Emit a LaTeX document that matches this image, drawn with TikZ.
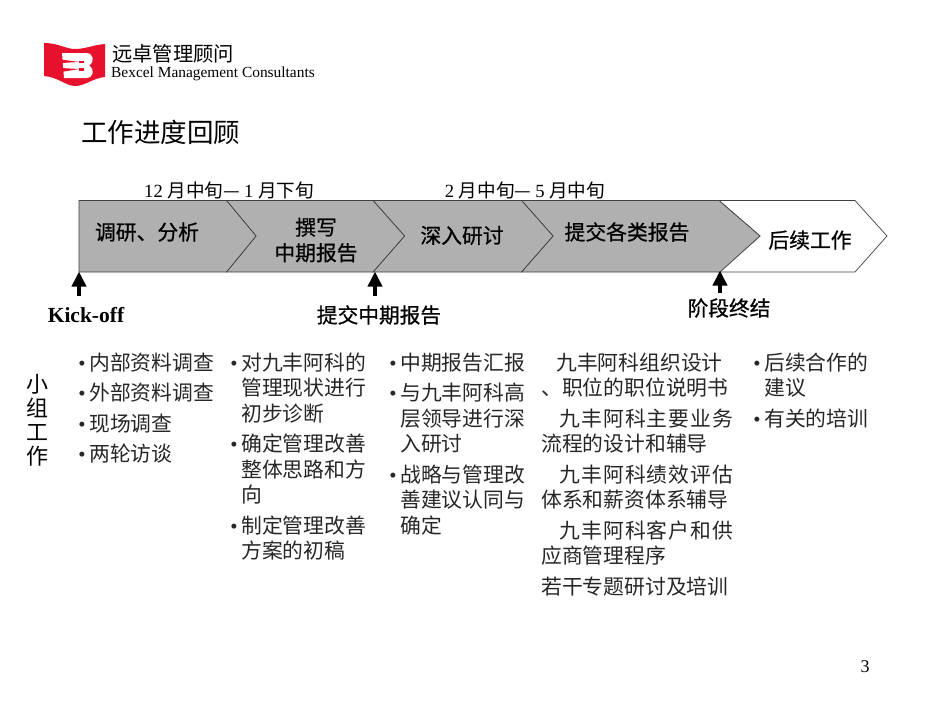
\documentclass[tikz,border=0pt]{standalone}
\usepackage{fontspec}
\setmainfont{Noto Sans CJK SC}
\newfontfamily\lat{Liberation Serif}
\newfontfamily\cjkb[FakeBold=0.7]{Noto Sans CJK SC}
\newfontfamily\cjkw[LetterSpace=5.5]{Noto Sans CJK SC}
\usetikzlibrary{arrows.meta}
\newcommand{\bul}{\llap{\lat\textbullet\hspace{3.5pt}}}
\tikzset{
  phase/.style = {draw=black!75, line width=.7pt, fill=barfill},
  phaselabel/.style = {font=\cjkb\fontsize{20.8}{25.5}\selectfont, align=center, text=black},
  daterange/.style = {font=\fontsize{18.6}{20}\selectfont, inner sep=0pt},
  milestone/.style = {font=\cjkb\fontsize{20.7}{24}\selectfont, inner sep=0pt, text=black},
  bodytext/.style = {font=\fontsize{20.8}{25.5}\selectfont, anchor=north west, inner sep=0pt, align=left, text=black!85},
  mark arrow/.style = {line width=3.6pt, -{Triangle[length=15pt, width=14pt]}, shorten >=-.5pt}
}
\definecolor{barfill}{HTML}{B0B0B0}
\definecolor{logored}{HTML}{E8112D}
\begin{document}
\begin{tikzpicture}[x=1pt, y=-1pt]
\useasboundingbox (0,0) rectangle (950,713);
% logo
\fill[logored] (44,43) .. controls (58,43) and (66,49) .. (75,49) .. controls (85,49) and (93,45) .. (105,44)
  -- (105,77) .. controls (93,78) and (85,86) .. (75,86) .. controls (66,86) and (58,77) .. (44,76) -- cycle;
\fill[white] (62,53) -- (86,53) .. controls (94,53) and (95,62) .. (89,65.5) .. controls (95,69) and (94,78) .. (86,78) -- (64,78) -- cycle;
\fill[logored] (61,59.5) -- (79,62) -- (61,63) -- cycle;
\fill[logored] (61,68) -- (79,69) -- (61,72) -- cycle;
\fill[logored] (79,60.5) -- (84,60.5) -- (84,63) -- (79,63) -- cycle;
\fill[logored] (79,68) -- (84,68) -- (84,71) -- (79,71) -- cycle;
\node[inner sep=0pt, anchor=west] (logocn) at (112,54) {\fontsize{20.3}{24}\selectfont 远卓管理顾问};
\node[inner sep=0pt, anchor=west] (logoen) at (111,74) {\lat\fontsize{15.4}{16}\selectfont Bexcel Management Consultants};
% title
\node[inner sep=0pt, anchor=west] (title) at (81,132) {\fontsize{26.5}{30}\selectfont 工作进度回顾};
% dates
\node[daterange] (date1) at (229,190) {\lat 12 \normalfont 月中旬— \lat 1 \normalfont 月下旬};
\node[daterange] (date2) at (525,190) {\lat 2 \normalfont 月中旬— \lat 5 \normalfont 月中旬};
% phases, last one first
\draw[phase, fill=white] (719,200.5) -- (855,200.5) -- (887,236) -- (855,272) -- (719,272) -- (760,236) -- cycle;
\draw[phase] (521.5,200.5) -- (719,200.5) -- (760,236) -- (720,272) -- (521.5,272) -- (553,236) -- cycle;
\draw[phase] (373,200.5) -- (521.5,200.5) -- (553,236) -- (521.5,272) -- (373,272) -- (404.5,236) -- cycle;
\draw[phase] (226.5,200.5) -- (373,200.5) -- (404.5,236) -- (373,272) -- (226.5,272) -- (256,236) -- cycle;
\draw[phase] (79,200.5) -- (226.5,200.5) -- (256,236) -- (226.5,272) -- (79,272) -- cycle;
\node[phaselabel] (phasea) at (147,232) {调研、分析};
\node[phaselabel] (phaseb) at (316,240) {撰写\\中期报告};
\node[phaselabel] (phasec) at (462,235.5) {深入研讨};
\node[phaselabel] (phased) at (627,232) {提交各类报告};
\node[phaselabel] (phasee) at (810,240) {后续工作};
% milestones
\coordinate (tipa) at (79,272);
\coordinate (tipb) at (375,272);
\coordinate (tipc) at (720,271);
\node[milestone] (kick) at (86,315) {\lat\bfseries\fontsize{21.5}{24}\selectfont Kick-off};
\node[milestone] (report) at (379,315) {提交中期报告};
\node[milestone] (close) at (729,308) {阶段终结};
\coordinate (taila) at (79,296);
\coordinate (tailb) at (375,296);
\coordinate (tailc) at (720,293);
\draw[mark arrow] (taila) -- (tipa);
\draw[mark arrow] (tailb) -- (tipb);
\draw[mark arrow] (tailc) -- (tipc);
% group work
\node[inner sep=0pt, align=center, font=\fontsize{22}{24}\selectfont] (group) at (37,420) {小\\组\\工\\作};
% columns
\node[bodytext, font=\fontsize{20.8}{30.4}\selectfont] (cola) at (89,352.5) {\bul 内部资料调查\\\bul 外部资料调查\\\bul 现场调查\\\bul 两轮访谈};
\node[bodytext] (colb) at (241,352.5) {\bul 对九丰阿科的\\管理现状进行\\初步诊断\\[5pt]\bul 确定管理改善\\整体思路和方\\向\\[5pt]\bul 制定管理改善\\方案的初稿};
\node[bodytext] (colc) at (400,352.5) {\bul 中期报告汇报\\[5pt]\bul 与九丰阿科高\\层领导进行深\\入研讨\\[5pt]\bul 战略与管理改\\善建议认同与\\确定};
\node[bodytext] (cold) at (541,352.5) {\hspace{15pt}九丰阿科组织设计\\、职位的职位说明书\\[5pt]\hspace{18pt}{\cjkw 九丰阿科主要业务}\\流程的设计和辅导\\[5pt]\hspace{18pt}{\cjkw 九丰阿科绩效评估}\\体系和薪资体系辅导\\[5pt]\hspace{18pt}{\cjkw 九丰阿科客户和供}\\应商管理程序\\[5pt]若干专题研讨及培训};
\node[bodytext] (cole) at (764,352.5) {\bul 后续合作的\\建议\\[5pt]\bul 有关的培训};
% page number
\node[inner sep=0pt] (pagenum) at (865,667) {\lat\fontsize{18}{20}\selectfont 3};
\end{tikzpicture}
\end{document}
